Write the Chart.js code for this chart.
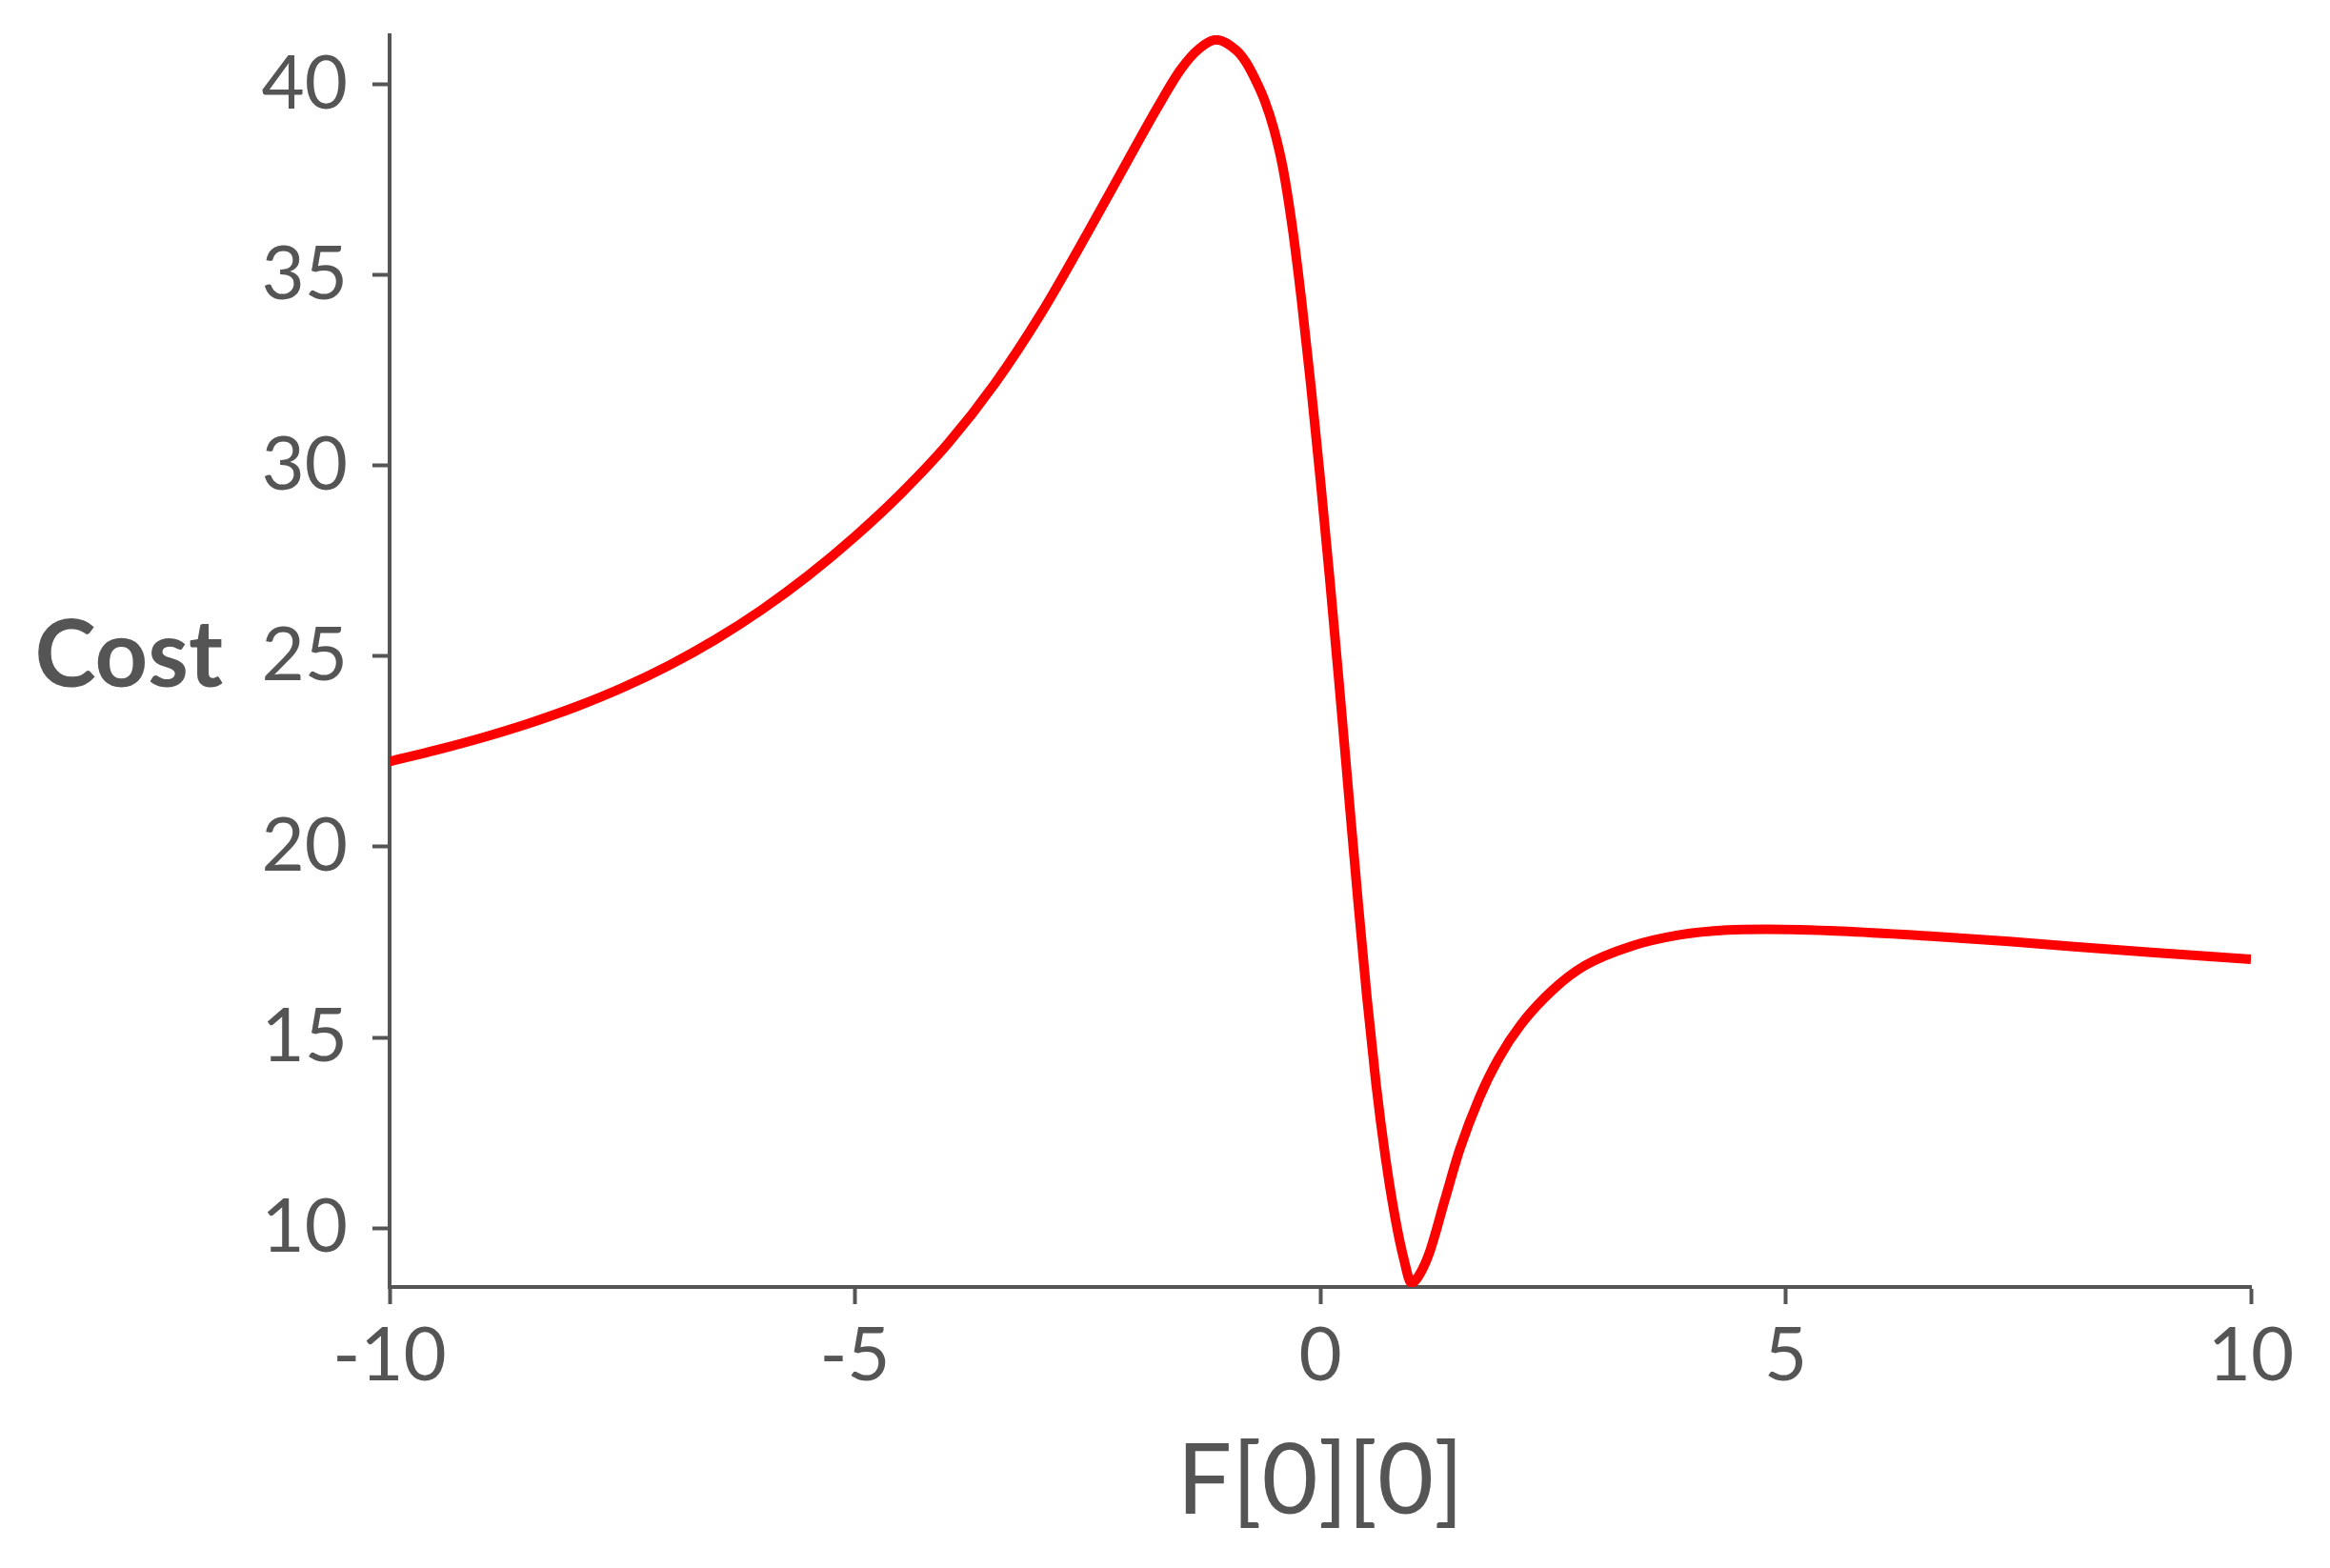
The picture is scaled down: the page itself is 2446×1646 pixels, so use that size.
<!DOCTYPE html>
<html lang="en">

<head>
    <meta charset="UTF-8">
    <title>Cost vs F[0][0]</title>
    <script src="https://cdn.jsdelivr.net/npm/chart.js"></script>
    <style>
        html, body {
            margin: 0;
            padding: 0;
            background: #fff;
        }
        #chartContainer {
            width: 2446px;
            height: 1646px;
        }
    </style>
</head>

<body>
    <div id="chartContainer">
        <canvas id="costChart" width="2446" height="1646"></canvas>
    </div>

    <script>
        // values
        const fValues = [-10, -9.5, -9, -8.5, -8, -7.5, -7, -6.5, -6, -5.5, -5, -4.5, -4, -3.5, -3, -2.5, -2,
            -1.75, -1.5, -1.3, -1.12, -0.9, -0.8, -0.7,
            -0.6, -0.5, -0.4, -0.3, -0.2, -0.1, 0, 0.1, 0.2, 0.3, 0.4, 0.5, 0.6, 0.7, 0.8, 0.9,
            0.98,
            1.06, 1.17, 1.34, 1.5, 1.71, 1.91, 2.16, 2.5, 2.84, 3.35, 3.86, 4.37, 4.8,
            5.6, 6.6, 7.4, 8.1, 9, 10];
        const costValues = [22.24, 22.54, 22.87, 23.245, 23.675, 24.175, 24.76, 25.44, 26.225, 27.125, 28.145, 29.285, 30.585, 32.145, 33.995, 36.115, 38.315,
            39.4, 40.4, 40.95, 41.18, 40.9, 40.6, 40.15,
            39.6, 38.85, 37.8, 36.26, 34.31, 32.08, 29.66, 27.08, 24.36, 21.53, 18.73, 16.08, 13.76, 11.86, 10.33, 9.16,
            8.55,
            8.75, 9.33, 10.75, 12.07, 13.42, 14.42, 15.35, 16.25, 16.88, 17.4, 17.69, 17.82, 17.84,
            17.79, 17.65, 17.52, 17.38, 17.22, 17.05];

        const xTicks = [-10, -5, 0, 5, 10];
        const yTicks = [10, 15, 20, 25, 30, 35, 40];

        const xTitle = 'F[0][0]';
        const yTitle = 'Cost';

        const inkColor = '#555555';

        // horizontal "Cost" label left of the y axis
        const yTitlePlugin = {
            id: 'yTitle',
            afterDraw(chart) {
                const ctx = chart.ctx;
                const area = chart.chartArea;
                ctx.save();
                ctx.fillStyle = inkColor;
                ctx.font = 'bold 97px Lato';
                ctx.textAlign = 'right';
                ctx.textBaseline = 'middle';
                ctx.fillText(yTitle, area.left - 175, (area.top + area.bottom) / 2 - 4);
                ctx.restore();
            }
        };

        const points = fValues.map((f, i) => ({ x: f, y: costValues[i] }));

        const ctx = document.getElementById('costChart').getContext('2d');
        const costChart = new Chart(ctx, {
            type: 'line',
            data: {
                datasets: [{
                    data: points,
                    borderColor: '#ff0000',
                    borderWidth: 10,
                    pointRadius: 0,
                    fill: false,
                    cubicInterpolationMode: 'monotone'
                }]
            },
            options: {
                responsive: false,
                animation: false,
                devicePixelRatio: 1,
                layout: {
                    padding: { top: 37, right: 83, bottom: 0, left: 0 }
                },
                plugins: {
                    legend: { display: false },
                    tooltip: { enabled: false }
                },
                scales: {
                    x: {
                        type: 'linear',
                        min: -10,
                        max: 10,
                        afterBuildTicks: scale => {
                            scale.ticks = xTicks.map(v => ({ value: v }));
                        },
                        afterFit: scale => {
                            scale.height = 295;
                            scale.paddingLeft = 0;
                            scale.paddingRight = 0;
                        },
                        grid: {
                            display: true,
                            drawOnChartArea: false,
                            drawTicks: true,
                            tickLength: 18,
                            tickWidth: 4,
                            tickColor: inkColor
                        },
                        border: { display: true, color: inkColor, width: 4 },
                        ticks: {
                            color: inkColor,
                            font: { family: 'Lato', size: 78 },
                            padding: 8,
                            maxRotation: 0,
                            callback: v => String(v)
                        },
                        title: {
                            display: true,
                            text: xTitle,
                            color: inkColor,
                            font: { family: 'Lato', size: 102 },
                            padding: { top: 0, bottom: 29 }
                        }
                    },
                    y: {
                        type: 'linear',
                        min: 8.45,
                        max: 41.3,
                        afterBuildTicks: scale => {
                            scale.ticks = yTicks.map(v => ({ value: v }));
                        },
                        afterFit: scale => {
                            scale.width = 409;
                            scale.paddingTop = 0;
                            scale.paddingBottom = 0;
                        },
                        grid: {
                            display: true,
                            drawOnChartArea: false,
                            drawTicks: true,
                            tickLength: 18,
                            tickWidth: 4,
                            tickColor: inkColor
                        },
                        border: { display: true, color: inkColor, width: 4 },
                        ticks: {
                            color: inkColor,
                            font: { family: 'Lato', size: 78 },
                            padding: 26,
                            callback: v => String(v)
                        },
                        title: { display: false }
                    }
                }
            },
            plugins: [yTitlePlugin]
        });
    </script>
</body>

</html>
